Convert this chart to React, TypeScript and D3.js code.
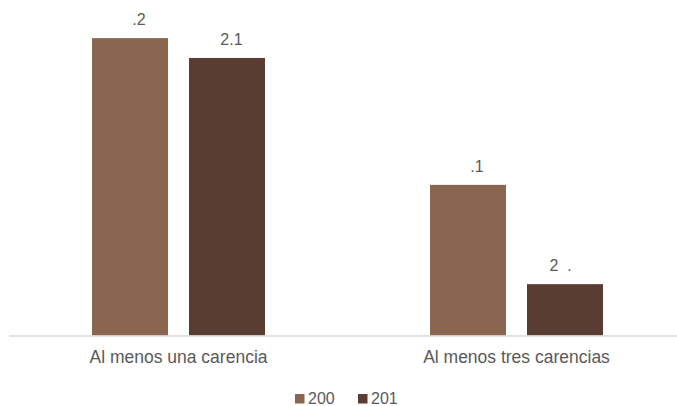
import React from "react";
import * as d3 from "d3";

const categories = ["Al menos una carencia", "Al menos tres carencias"];
const seriesNames = ["200", "201"];
const seriesA = [76.2, 45.9];
const seriesB = [72.1, 25.4];
// data labels as they appear (missing digits kept as blank space)
const labelsA = ["    .2", "    .1"];
const labelsB = ["  2.1", "2  .  "];
const colors = ["#8A654F", "#593D32"];

const W = 677;
const H = 406;

export default function App() {
  const x0 = d3.scaleBand<string>().domain(categories).range([9.5, 685.5]).padding(0);
  const groupW = 173;
  const off = (x0.bandwidth() - groupW) / 2;
  const x1 = d3
    .scaleBand<string>()
    .domain(seriesNames)
    .range([off, off + groupW])
    .paddingInner(21 / 97)
    .paddingOuter(0);
  const y = d3.scaleLinear().domain([14.8, 80]).range([335.5, 19.7]);
  const series = [seriesA, seriesB];
  const labels = [labelsA, labelsB];
  const font = "'Liberation Sans', Arial, sans-serif";

  return (
    <svg width={W} height={H} style={{ position: "absolute", left: 0, top: 0 }} fontFamily={font}>
      <rect width={W} height={H} fill="#fff" />
      {categories.map((c, ci) => (
        <g key={c} transform={`translate(${x0(c)},0)`}>
          {seriesNames.map((s, si) => {
            const v = series[si][ci];
            const bx = x1(s)!;
            const bw = x1.bandwidth();
            return (
              <g key={s}>
                <rect x={bx} y={y(v)} width={bw} height={y.range()[0] - y(v)} fill={colors[si]} />
                <text
                  x={bx + bw / 2}
                  y={y(v) - 13}
                  textAnchor="middle"
                  fontSize={16}
                  fill="#595959"
                  style={{ whiteSpace: "pre" }}
                >
                  {labels[si][ci]}
                </text>
              </g>
            );
          })}
          <text x={x0.bandwidth() / 2} y={363} textAnchor="middle" fontSize={17.5} fill="#595959">
            {c}
          </text>
        </g>
      ))}
      <line x1={9} x2={W} y1={336} y2={336} stroke="#D9D9D9" strokeWidth={1.5} />
      {seriesNames.map((s, i) => {
        const lx = 295 + i * 63;
        return (
          <g key={s}>
            <rect x={lx} y={394} width={9.5} height={9.5} fill={colors[i]} />
            <text x={lx + 13} y={404} fontSize={16} fill="#595959">
              {s}
            </text>
          </g>
        );
      })}
    </svg>
  );
}
